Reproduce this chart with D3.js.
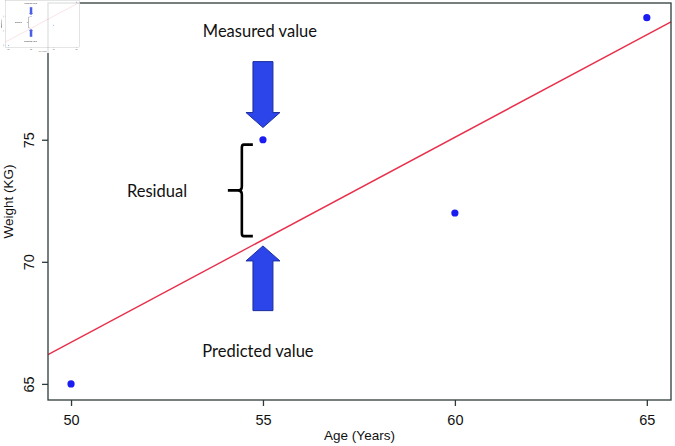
<!DOCTYPE html>
<html>
<head>
<meta charset="utf-8">
<script src="https://cdn.jsdelivr.net/npm/d3@7"></script>
<style>
  body { margin: 0; background: #fff; }
  svg { display: block; }
</style>
</head>
<body>
<div id="chart-area"></div>
<script>
var width = 675,
	height = 446;

var margin = {top: 3, right: 4, bottom: 46, left: 48};

// data
var ages = [50, 55, 60, 65];
var weights = [65, 75, 72, 80];
var xTicks = [50, 55, 60, 65];
var yTicks = [65, 70, 75];

// annotation anchors (age, weight)
var measuredArrow = {age: 55, tip: 75.5, tail: 78.2};
var predictedArrow = {age: 55, tip: 70.65, tail: 68.0};
var brace = {age: 54.45, top: 74.8, bottom: 71.05};
var labels = [
	{text: "Measured value", age: 54.92, weight: 79.39},
	{text: "Residual", age: 52.24, weight: 72.83},
	{text: "Predicted value", age: 54.87, weight: 66.27}
];

var svg = d3.select("#chart-area").append("svg")
	.attr("width", width)
	.attr("height", height);

// least squares fit
var mx = d3.mean(ages), my = d3.mean(weights);
var sxy = d3.sum(ages, function(d, i) { return (d - mx) * (weights[i] - my); });
var sxx = d3.sum(ages, function(d) { return (d - mx) * (d - mx); });
var slope = sxy / sxx;
var intercept = my - slope * mx;

function drawChart(g) {
	var x = d3.scaleLinear().domain([49.4, 65.63]).range([margin.left, width - margin.right]);
	var y = d3.scaleLinear().domain([64.34, 80.6]).range([height - margin.bottom, margin.top]);

	g.append("rect")
		.attr("width", width).attr("height", height)
		.attr("fill", "#fff");

	// fitted line, clipped to the box by the domain ends
	var x0 = x.domain()[0], x1 = x.domain()[1];
	g.append("line")
		.attr("x1", x(x0)).attr("y1", y(intercept + slope * x0))
		.attr("x2", x(x1)).attr("y2", y(intercept + slope * x1))
		.attr("stroke", "#e8304c")
		.attr("stroke-width", 1.4);

	g.selectAll("circle.pt")
		.data(ages)
		.enter()
		.append("circle")
		.attr("class", "pt")
		.attr("cx", function(d) { return x(d); })
		.attr("cy", function(d, i) { return y(weights[i]); })
		.attr("r", 3.6)
		.attr("fill", "#1a1cf0");

	// axes
	var xAxis = g.append("g")
		.attr("transform", "translate(0," + (height - margin.bottom) + ")")
		.call(d3.axisBottom(x).tickValues(xTicks).tickSize(6).tickPadding(9));
	var yAxis = g.append("g")
		.attr("transform", "translate(" + margin.left + ",0)")
		.call(d3.axisLeft(y).tickValues(yTicks).tickSize(6).tickPadding(4));

	[xAxis, yAxis].forEach(function(a) {
		a.select(".domain").remove();
		a.selectAll("line").attr("stroke", "#2f3a3a").attr("stroke-width", 1.3);
		a.selectAll("text")
			.attr("font-family", "Liberation Sans, Arial, sans-serif")
			.attr("font-size", 14.5)
			.attr("fill", "#111");
	});
	yAxis.selectAll(".tick text")
		.attr("text-anchor", "middle")
		.attr("dy", null)
		.attr("x", null)
		.attr("transform", "translate(-18,0) rotate(-90)")
		.attr("dominant-baseline", "middle");

	g.append("rect")
		.attr("x", margin.left).attr("y", margin.top)
		.attr("width", width - margin.left - margin.right)
		.attr("height", height - margin.bottom - margin.top)
		.attr("fill", "none")
		.attr("stroke", "#2f3a3a")
		.attr("stroke-width", 1.3);

	g.append("text")
		.attr("x", (margin.left + width - margin.right) / 2)
		.attr("y", height - 6)
		.attr("text-anchor", "middle")
		.attr("font-family", "Liberation Sans, Arial, sans-serif")
		.attr("font-size", 13.5)
		.attr("fill", "#111")
		.text("Age (Years)");

	g.append("text")
		.attr("transform", "translate(13," + ((margin.top + height - margin.bottom) / 2) + ") rotate(-90)")
		.attr("text-anchor", "middle")
		.attr("font-family", "Liberation Sans, Arial, sans-serif")
		.attr("font-size", 13.5)
		.attr("fill", "#111")
		.text("Weight (KG)");

	// block arrows
	var shaft = 10, head = 17;
	function arrowPath(a) {
		var cx = x(a.age), tip = y(a.tip), tail = y(a.tail);
		var dir = tail < tip ? 1 : -1;  // 1 = pointing down
		var base = tip - dir * 15;
		return "M" + (cx - shaft) + "," + tail +
			"L" + (cx + shaft) + "," + tail +
			"L" + (cx + shaft) + "," + base +
			"L" + (cx + head) + "," + base +
			"L" + cx + "," + tip +
			"L" + (cx - head) + "," + base +
			"L" + (cx - shaft) + "," + base + "Z";
	}
	g.selectAll("path.arrow")
		.data([measuredArrow, predictedArrow])
		.enter()
		.append("path")
		.attr("class", "arrow")
		.attr("d", arrowPath)
		.attr("fill", "#2b45ea")
		.attr("stroke", "#1d2f9e")
		.attr("stroke-width", 1);

	// curly brace
	var bx = x(brace.age), bt = y(brace.top), bb = y(brace.bottom), bm = (bt + bb) / 2;
	g.append("path")
		.attr("d", "M" + (bx + 11) + "," + bt +
			"L" + (bx + 2) + "," + bt +
			"Q" + bx + "," + bt + " " + bx + "," + (bt + 3) +
			"L" + bx + "," + (bm - 4) +
			"Q" + bx + "," + bm + " " + (bx - 4) + "," + bm +
			"L" + (bx - 14) + "," + bm +
			"M" + (bx - 4) + "," + bm +
			"Q" + bx + "," + bm + " " + bx + "," + (bm + 4) +
			"L" + bx + "," + (bb - 3) +
			"Q" + bx + "," + bb + " " + (bx + 2) + "," + bb +
			"L" + (bx + 11) + "," + bb)
		.attr("fill", "none")
		.attr("stroke", "#000")
		.attr("stroke-width", 2.6);

	g.selectAll("text.note")
		.data(labels)
		.enter()
		.append("text")
		.attr("class", "note")
		.attr("x", function(d) { return x(d.age); })
		.attr("y", function(d) { return y(d.weight); })
		.attr("text-anchor", "middle")
		.attr("dominant-baseline", "middle")
		.attr("font-family", "Lato, Open Sans, sans-serif")
		.attr("font-size", 16.5)
		.attr("fill", "#111")
		.text(function(d) { return d.text; });
}

// main chart
drawChart(svg.append("g"));

// small thumbnail copy in the top-left corner
var thumb = svg.append("g")
	.attr("transform", "translate(0,0) scale(0.118)")
	.attr("opacity", 0.85);
drawChart(thumb);
</script>
</body>
</html>
